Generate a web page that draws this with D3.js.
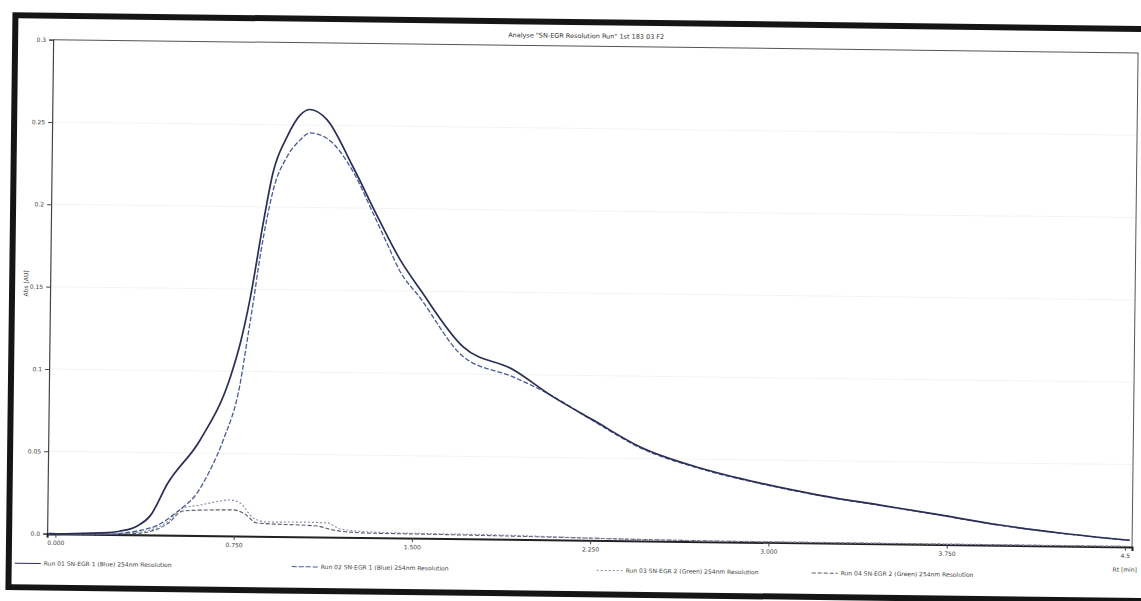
<!DOCTYPE html>
<html><head><meta charset="utf-8">
<script src="https://cdn.jsdelivr.net/npm/d3@7/dist/d3.min.js"></script>
<style>html,body{margin:0;padding:0;background:#fff;}svg{display:block;}</style>
</head><body>
<svg id="chart" width="1141" height="601"></svg>
<script>
// ---- data (time [min], absorbance [AU]) ----
const titleText = 'Analyse "SN-EGR Resolution Run" 1st 183 03 F2';
const yTickValues = [0, 0.05, 0.1, 0.15, 0.2, 0.25, 0.3];
const yTickLabels = ["0.0", "0.05", "0.1", "0.15", "0.2", "0.25", "0.3"];
const xTickValues = [0, 0.75, 1.5, 2.25, 3, 3.75, 4.5];
const xTickLabels = ["0.000", "0.750", "1.500", "2.250", "3.000", "3.750", "4.5"];
const seriesNames = [
  "Run 01 SN-EGR 1 (Blue) 254nm Resolution",
  "Run 02 SN-EGR 1 (Blue) 254nm Resolution",
  "Run 03 SN-EGR 2 (Green) 254nm Resolution",
  "Run 04 SN-EGR 2 (Green) 254nm Resolution"
];
const run1 = [[-0.03,0],[0.0,0],[0.19,0.0008],[0.27,0.002],[0.34,0.005],[0.4,0.012],[0.468,0.031],[0.604,0.058],[0.728,0.0965],[0.768,0.117],[0.808,0.145],[0.858,0.19],[0.897,0.221],[0.955,0.243],[1.008,0.256],[1.05,0.2595],[1.121,0.2535],[1.23,0.2258],[1.346,0.193],[1.436,0.169],[1.522,0.151],[1.706,0.1165],[1.918,0.103],[2.087,0.0868],[2.257,0.073],[2.456,0.057],[2.709,0.0447],[2.962,0.036],[3.215,0.029],[3.468,0.0235],[3.721,0.018],[3.974,0.0123],[4.227,0.0079],[4.52,0.004]];
const run2 = [[-0.03,0],[0.19,0],[0.399,0.0042],[0.536,0.0172],[0.578,0.0227],[0.648,0.04],[0.701,0.058],[0.77,0.093],[0.797,0.119],[0.82,0.1416],[0.847,0.17],[0.875,0.194],[0.899,0.2105],[0.955,0.2306],[1.01,0.241],[1.051,0.2453],[1.123,0.242],[1.234,0.222],[1.32,0.197],[1.389,0.176],[1.432,0.163],[1.522,0.146],[1.707,0.1105],[1.918,0.0986],[2.061,0.0891],[2.257,0.0725],[2.456,0.0565],[2.709,0.0443],[2.962,0.0357],[3.215,0.0288],[3.468,0.0233],[3.721,0.0178],[3.974,0.0122],[4.227,0.0078],[4.52,0.0039]];
const run3 = [[-0.03,0],[0.189,0.0002],[0.357,0.0017],[0.47,0.008],[0.536,0.0166],[0.608,0.0185],[0.671,0.0205],[0.734,0.0218],[0.776,0.02],[0.832,0.011],[0.891,0.0087],[1.029,0.0089],[1.143,0.0086],[1.198,0.005],[1.324,0.0034],[1.45,0.003],[1.871,0.0025],[2.3,0.0012],[2.8,0.0005],[4.52,0.0003]];
const run4 = [[-0.03,0],[0.189,0],[0.357,0.001],[0.469,0.0067],[0.537,0.0148],[0.65,0.0156],[0.747,0.0158],[0.789,0.014],[0.848,0.008],[1.101,0.0066],[1.169,0.0043],[1.312,0.0027],[1.535,0.0025],[2.0,0.0018],[2.5,0.0008],[3.0,0.0003],[4.52,0.0002]];

// ---- layout ----
const svg = d3.select("#chart");
const root = svg.append("g").attr("transform", "rotate(0.7,570,300)");
const L = 50, R = 1135, T = 46, B = 540;
const x = d3.scaleLinear().domain([-0.035, 4.53]).range([L, R]);
const y = d3.scaleLinear().domain([0, 0.3]).range([B, T]);

// outer scan frame
root.append("rect").attr("x", 12).attr("y", 22).attr("width", 1140).attr("height", 572)
  .attr("fill", "none").attr("stroke", "#151515").attr("stroke-width", 6);

// faint grid
root.append("g").selectAll("line").data(yTickValues.slice(1, -1)).join("line")
  .attr("x1", L).attr("x2", R).attr("y1", d => y(d)).attr("y2", d => y(d))
  .attr("stroke", "#f3f3f3").attr("stroke-width", 1);

// plot frame (top & right)
root.append("path").attr("d", `M${L},${T}H${R}V${B}`).attr("fill", "none")
  .attr("stroke", "#555").attr("stroke-width", 1);

// title
root.append("text").attr("x", 583).attr("y", 38).attr("text-anchor", "middle")
  .attr("font-family", "DejaVu Sans, sans-serif").attr("font-size", 6.5).attr("fill", "#333")
  .text(titleText);

// y axis
const yAxis = d3.axisLeft(y).tickValues(yTickValues).tickSize(4).tickPadding(3)
  .tickFormat((d, i) => yTickLabels[i]);
const gy = root.append("g").attr("transform", `translate(${L},0)`).call(yAxis);
gy.select(".domain").attr("stroke", "#444").attr("stroke-width", 1.2);
gy.selectAll("line").attr("stroke", "#444");
gy.selectAll("text").attr("font-family", "DejaVu Sans, sans-serif").attr("font-size", 6).attr("fill", "#444");

root.append("text").attr("transform", `translate(28,290) rotate(-90)`).attr("text-anchor", "middle")
  .attr("font-family", "DejaVu Sans, sans-serif").attr("font-size", 6).attr("fill", "#444")
  .text("Abs [AU]");

// x axis
const xAxis = d3.axisBottom(x).tickValues(xTickValues).tickSize(4).tickPadding(3)
  .tickFormat((d, i) => xTickLabels[i]);
const gx = root.append("g").attr("transform", `translate(0,${B})`).call(xAxis);
gx.select(".domain").attr("stroke", "#222").attr("stroke-width", 2);
gx.selectAll("line").attr("stroke", "#444");
gx.selectAll("text").attr("font-family", "DejaVu Sans, sans-serif").attr("font-size", 6).attr("fill", "#444");
root.append("text").attr("x", 1128).attr("y", 565).attr("text-anchor", "middle")
  .attr("font-family", "DejaVu Sans, sans-serif").attr("font-size", 6).attr("fill", "#444")
  .text("Rt [min]");

// series
const line = d3.line().x(d => x(d[0])).y(d => y(d[1])).curve(d3.curveMonotoneX);
const styles = [
  {stroke: "#2b2f55", width: 1.7, dash: null},
  {stroke: "#4a5a98", width: 1.3, dash: "5,2"},
  {stroke: "#8a90aa", width: 1.2, dash: "2,2"},
  {stroke: "#5a5a66", width: 1.1, dash: "4,2"}
];
const allRuns = [run4, run3, run2, run1];
const allStyles = [styles[3], styles[2], styles[1], styles[0]];
allRuns.forEach((run, i) => {
  root.append("path").datum(run).attr("d", line).attr("fill", "none")
    .attr("stroke", allStyles[i].stroke).attr("stroke-width", allStyles[i].width)
    .attr("stroke-dasharray", allStyles[i].dash);
});

// legend
const legX = [18, 295, 600, 815];
const leg = root.append("g");
seriesNames.forEach((name, i) => {
  const g = leg.append("g").attr("transform", `translate(${legX[i]},570)`);
  g.append("line").attr("x1", 0).attr("x2", 26).attr("y1", 0).attr("y2", 0)
    .attr("stroke", styles[i].stroke).attr("stroke-width", 1).attr("stroke-dasharray", styles[i].dash);
  g.append("text").attr("x", 29).attr("y", 2).attr("font-family", "DejaVu Sans, sans-serif")
    .attr("font-size", 6).attr("fill", "#444").text(name);
});
</script>
</body></html>
